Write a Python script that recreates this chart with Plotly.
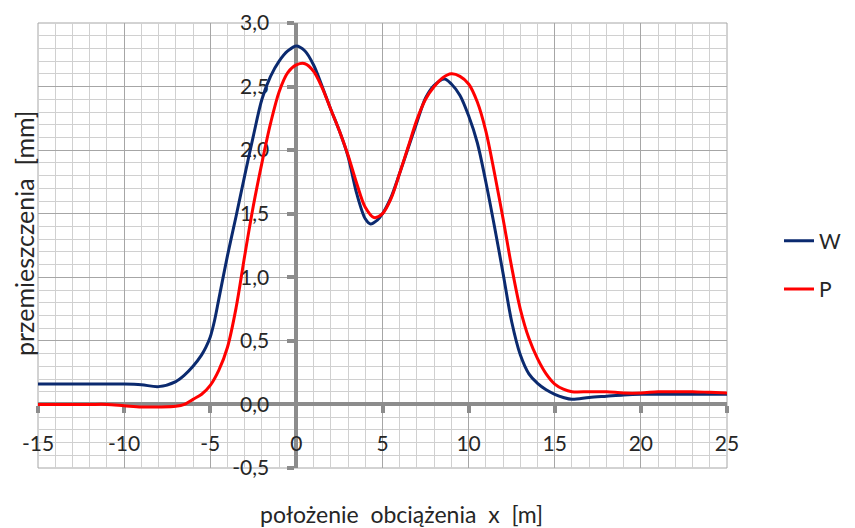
import plotly.graph_objects as go

# ---- data ----
x_w = [-15, -14, -13, -12, -11, -10, -9, -8, -7, -6.5, -6, -5.5, -5.25, -5, -4.75, -4.5, -4, -3.5, -3, -2.5, -2,
       -1.5, -1, -0.5,
       0, 0.5, 1, 1.5, 2, 2.5, 3, 3.5, 4, 4.3, 4.7, 5, 5.5, 6, 6.5, 7, 7.5, 8, 8.6, 9, 9.5, 10, 10.5, 11,
       11.5, 12, 12.5, 13, 13.5, 14, 14.5, 15, 15.5, 16, 17, 18, 19, 20, 21, 22, 23, 24, 25]
y_w = [0.16, 0.16, 0.16, 0.16, 0.16, 0.16, 0.155, 0.14, 0.18, 0.23, 0.30, 0.39, 0.45, 0.53, 0.66, 0.83, 1.17,
       1.48, 1.80, 2.11, 2.40, 2.58, 2.70, 2.78,
       2.82, 2.78, 2.67, 2.50, 2.32, 2.15, 1.95, 1.66, 1.46, 1.42, 1.45, 1.50, 1.63, 1.82, 2.02, 2.22, 2.41,
       2.51, 2.56, 2.52, 2.43, 2.27, 2.06, 1.75,
       1.40, 1.03, 0.65, 0.39, 0.24, 0.165, 0.115, 0.08, 0.055, 0.04, 0.055, 0.065, 0.075, 0.08, 0.08, 0.08,
       0.08, 0.08, 0.08]

x_p = [-15, -14, -13, -12, -11, -10, -9, -8, -7, -6.5, -6, -5.5, -5, -4.5, -4, -3.5, -3, -2.5, -2, -1.5, -1, -0.5,
       0, 0.5, 1, 1.5, 2, 2.5, 3, 3.5, 4, 4.5, 5, 5.5, 6, 6.5, 7, 7.5, 8, 8.5, 9, 9.5, 10, 10.5, 11,
       11.5, 12, 12.5, 13, 13.5, 14, 14.5, 15, 15.5, 16, 17, 18, 19, 20, 21, 22, 23, 24, 25]
y_p = [0.0, 0.0, 0.0, 0.0, 0.0, -0.01, -0.02, -0.02, -0.015, 0.0, 0.04, 0.08, 0.15, 0.27, 0.45, 0.76, 1.17,
       1.56, 1.90, 2.21, 2.46, 2.61,
       2.67, 2.68, 2.62, 2.49, 2.32, 2.15, 1.96, 1.74, 1.55, 1.47, 1.50, 1.62, 1.82, 2.03, 2.24, 2.40, 2.50,
       2.57, 2.60, 2.58, 2.52, 2.38, 2.15,
       1.82, 1.46, 1.08, 0.75, 0.52, 0.36, 0.24, 0.16, 0.12, 0.10, 0.10, 0.10, 0.09, 0.09, 0.10, 0.10, 0.10,
       0.095, 0.09]

series_names = ["W", "P"]
series_colors = ["#0b2a6f", "#ff0000"]

x_tick_vals = [-15, -10, -5, 0, 5, 10, 15, 20, 25]
x_tick_text = ["-15", "-10", "-5", "0", "5", "10", "15", "20", "25"]
y_tick_vals = [-0.5, 0.0, 0.5, 1.0, 1.5, 2.0, 2.5, 3.0]
y_tick_text = ["-0,5", "0,0", "0,5", "1,0", "1,5", "2,0", "2,5", "3,0"]

x_title = "położenie \u00a0obciążenia \u00a0x \u00a0[m]"
y_title = "przemieszczenia \u00a0[mm]"

FONT = "Lato"
AX = "#8c8c8c"

fig = go.Figure()
for name, xs, ys, col in [(series_names[0], x_w, y_w, series_colors[0]),
                          (series_names[1], x_p, y_p, series_colors[1])]:
    fig.add_trace(go.Scatter(x=xs, y=ys, mode="lines", name=name, legendgroup=name,
                             line=dict(color=col, width=3, shape="spline", smoothing=0.9)))

ml, mr, mt, mb = 38, 128, 23, 60
W, H = 855, 528
pw, ph = W - ml - mr, H - mt - mb

def px2paper_x(px):
    return (px - ml) / pw

def px2paper_y(py):
    return (H - mb - py) / ph

fig.update_layout(
    width=W, height=H,
    margin=dict(l=ml, r=mr, t=mt, b=mb, pad=0, autoexpand=False),
    paper_bgcolor="white", plot_bgcolor="white",
    font=dict(family=FONT, size=21, color="#262626"),
    showlegend=True,
    legend=dict(x=px2paper_x(779), y=px2paper_y(265), xanchor="left", yanchor="middle",
                traceorder="grouped", tracegroupgap=18, font=dict(size=21, family=FONT),
                bgcolor="rgba(0,0,0,0)"),
    xaxis=dict(range=[-15, 25], tickmode="array", tickvals=x_tick_vals, ticktext=x_tick_text,
               showgrid=True, gridcolor="#a6a6a6", gridwidth=1,
               minor=dict(dtick=1, tick0=0, showgrid=True, gridcolor="#d0d0d0", gridwidth=1),
               zeroline=False, showline=True, linecolor=AX, linewidth=4,
               anchor="free", position=0.5 / 3.5, automargin=False,
               ticks="outside", ticklen=7, tickwidth=4, tickcolor=AX,
               ticklabelstandoff=12, layer="below traces", fixedrange=True),
    yaxis=dict(range=[-0.5, 3.0], tickmode="array", tickvals=y_tick_vals, ticktext=y_tick_text,
               showgrid=True, gridcolor="#a6a6a6", gridwidth=1,
               minor=dict(dtick=0.1, tick0=0, showgrid=True, gridcolor="#d0d0d0", gridwidth=1),
               zeroline=False, showline=True, linecolor=AX, linewidth=4,
               anchor="free", position=15 / 40, automargin=False,
               ticks="outside", ticklen=7, tickwidth=4, tickcolor=AX,
               ticklabelstandoff=14, layer="below traces", fixedrange=True),
    shapes=[dict(type="rect", xref="paper", yref="paper", x0=0, y0=0, x1=1, y1=1,
                 line=dict(color="#a6a6a6", width=1), layer="below")],
    annotations=[
        dict(text=x_title, xref="paper", yref="paper", x=px2paper_x(401), y=px2paper_y(514),
             xanchor="center", yanchor="middle", showarrow=False, font=dict(size=23, family=FONT)),
        dict(text=y_title, xref="paper", yref="paper", x=px2paper_x(24), y=px2paper_y(234),
             xanchor="center", yanchor="middle", textangle=-90, showarrow=False,
             font=dict(size=25, family=FONT)),
    ],
)

fig.write_html("out.html")
